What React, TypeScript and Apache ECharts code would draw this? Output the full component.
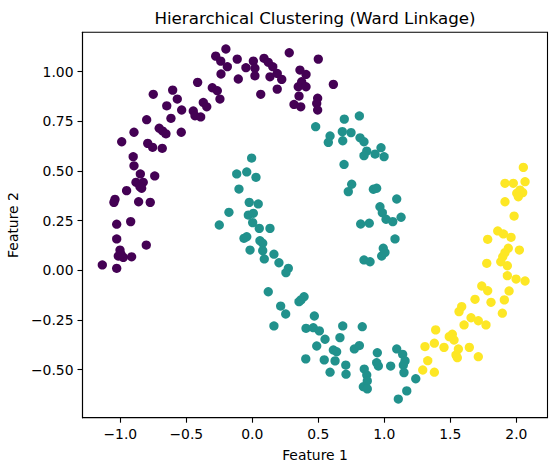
import React, { useEffect, useRef } from "react";
import * as echarts from "echarts";

// Cluster 0 (purple)
const cluster0: number[][] = [
  [-0.2, 1.114], [-0.277, 1.078], [-0.239, 1.053], [-0.189, 1.025], [-0.237, 0.988],
  [-0.414, 0.946], [-0.603, 0.907], [-0.75, 0.886], [-0.568, 0.862], [-0.303, 0.919],
  [-0.265, 0.904], [-0.245, 0.862], [-0.371, 0.845], [-0.345, 0.823], [-0.648, 0.828],
  [-0.535, 0.807], [-0.447, 0.802], [-0.434, 0.778], [-0.391, 0.772], [-0.616, 0.765],
  [-0.8, 0.758], [-0.705, 0.715], [-0.679, 0.701], [-0.654, 0.687], [-0.538, 0.695],
  [-0.896, 0.695], [-0.989, 0.647], [-0.792, 0.639], [-0.755, 0.619], [-0.682, 0.614],
  [-0.902, 0.572], [0.28, 1.095], [0.5, 1.063], [-0.114, 1.063], [-0.048, 1.02],
  [0.008, 1.053], [0.02, 1.017], [0.089, 1.067], [0.121, 1.047], [0.155, 1.025],
  [0.134, 0.974], [0.189, 0.991], [0.223, 0.961], [-0.106, 0.963], [0.02, 0.979],
  [0.189, 0.912], [0.361, 1.008], [0.407, 0.986], [0.374, 0.949], [0.348, 0.924],
  [0.407, 0.924], [0.614, 0.936], [0.064, 0.886], [0.354, 0.877], [0.316, 0.835],
  [0.367, 0.823], [0.495, 0.866], [0.488, 0.84], [0.495, 0.807], [-0.896, 0.526],
  [-0.848, 0.485], [-0.739, 0.475], [-0.881, 0.443], [-0.826, 0.443], [-0.851, 0.421],
  [-0.838, 0.413], [-0.952, 0.401], [-1.04, 0.357], [-1.048, 0.342], [-0.861, 0.345],
  [-0.773, 0.342], [-1.027, 0.232], [-0.921, 0.245], [-1.027, 0.158], [-0.803, 0.127],
  [-1.002, 0.102], [-1.015, 0.072], [-0.977, 0.065], [-0.914, 0.068], [-1.136, 0.027],
  [-1.027, 0.01], [-0.995, 0.082],
];

// Cluster 1 (teal)
const cluster1: number[][] = [
  [0.48, 0.723], [0.697, 0.761], [0.811, 0.777], [0.589, 0.676], [0.576, 0.644],
  [0.682, 0.698], [0.748, 0.693], [0.685, 0.652], [0.816, 0.667], [0.846, 0.647],
  [0.975, 0.617], [0.867, 0.6], [0.93, 0.585], [0.846, 0.577], [0.998, 0.572],
  [-0.005, 0.565], [-0.25, 0.228], [-0.177, 0.292], [-0.118, 0.485], [-0.042, 0.495],
  [0.028, 0.468], [-0.101, 0.409], [-0.023, 0.342], [0.045, 0.334], [-0.03, 0.278],
  [0.008, 0.287], [0.003, 0.24], [0.053, 0.211], [0.134, 0.211], [-0.063, 0.161],
  [-0.042, 0.169], [0.058, 0.149], [0.079, 0.136], [-0.017, 0.102], [0.079, 0.099],
  [0.091, 0.057], [0.164, 0.081], [0.202, 0.038], [0.273, 0.01], [0.255, -0.012],
  [0.695, 0.533], [0.753, 0.433], [0.727, 0.396], [0.917, 0.408], [0.942, 0.413],
  [0.967, 0.32], [0.985, 0.29], [1.013, 0.257], [0.821, 0.233], [0.886, 0.237],
  [0.992, 0.111], [0.98, 0.072], [0.846, 0.052], [0.892, 0.043], [1.094, 0.359],
  [1.064, 0.245], [1.127, 0.267], [1.081, 0.158], [1.005, 0.09], [0.121, -0.108],
  [0.215, -0.18], [0.253, -0.22], [0.164, -0.28], [0.354, -0.158], [0.369, -0.149],
  [0.392, -0.133], [0.47, -0.23], [0.407, -0.292], [0.462, -0.289], [0.508, -0.305],
  [0.551, -0.347], [0.488, -0.381], [0.405, -0.446], [0.545, -0.451], [0.614, -0.401],
  [0.639, -0.41], [0.627, -0.456], [0.589, -0.513], [0.685, -0.28], [0.664, -0.339],
  [0.708, -0.477], [0.71, -0.523], [0.773, -0.396], [0.811, -0.379], [0.833, -0.284],
  [0.947, -0.415], [0.942, -0.465], [0.955, -0.482], [0.848, -0.497], [0.867, -0.527],
  [0.871, -0.557], [0.841, -0.586], [0.871, -0.597], [1.094, -0.396], [1.139, -0.423],
  [1.157, -0.456], [1.144, -0.477], [1.149, -0.515], [1.048, -0.482], [1.238, -0.546],
  [1.17, -0.607], [1.106, -0.648],
];

// Cluster 2 (yellow)
const cluster2: number[][] = [
  [2.053, 0.518], [1.914, 0.438], [1.977, 0.438], [2.066, 0.446], [2.028, 0.404],
  [2.003, 0.388], [2.048, 0.391], [2.015, 0.37], [1.914, 0.345], [1.983, 0.273],
  [1.859, 0.198], [1.902, 0.183], [1.96, 0.166], [1.783, 0.156], [1.939, 0.111],
  [2.023, 0.102], [1.914, 0.089], [1.897, 0.068], [1.776, 0.035], [1.882, 0.043],
  [1.932, 0.023], [1.932, -0.027], [1.998, -0.044], [2.066, -0.054], [1.738, -0.079],
  [1.783, -0.103], [1.945, -0.104], [1.687, -0.146], [1.808, -0.161], [1.909, -0.149],
  [1.586, -0.183], [1.566, -0.208], [1.894, -0.216], [1.657, -0.239], [1.712, -0.254],
  [1.77, -0.275], [1.604, -0.275], [1.389, -0.3], [1.515, -0.322], [1.492, -0.334],
  [1.528, -0.351], [1.379, -0.367], [1.308, -0.384], [1.452, -0.388], [1.644, -0.388],
  [1.561, -0.396], [1.543, -0.426], [1.553, -0.44], [1.712, -0.435], [1.329, -0.455],
  [1.291, -0.502], [1.379, -0.513],
];

const xTicks = [-1, -0.5, 0, 0.5, 1, 1.5, 2];
const xTickLabels = ["\u22121.0", "\u22120.5", "0.0", "0.5", "1.0", "1.5", "2.0"];
const yTicks = [-0.5, -0.25, 0, 0.25, 0.5, 0.75, 1];
const yTickLabels = ["\u22120.50", "\u22120.25", "0.00", "0.25", "0.50", "0.75", "1.00"];

const FONT = "DejaVu Sans";

export default function App() {
  const ref = useRef<HTMLDivElement>(null);
  useEffect(() => {
    if (!ref.current) return;
    const chart = echarts.init(ref.current, undefined, { renderer: "svg" });
    const fmt = (ticks: number[], labels: string[]) => (v: number) => {
      const i = ticks.findIndex((t) => Math.abs(t - v) < 1e-9);
      return i >= 0 ? labels[i] : "";
    };
    const axisCommon = {
      axisLine: { show: true, onZero: false, lineStyle: { color: "#000", width: 1.1 } },
      splitLine: { show: false },
      nameTextStyle: { color: "#000", fontFamily: FONT, fontSize: 13.9 },
    };
    const mk = (data: number[][], color: string) => ({
      type: "scatter",
      data,
      symbol: "circle",
      symbolSize: 9.3,
      itemStyle: { color, opacity: 1 },
      emphasis: { disabled: true },
    });
    chart.setOption({
      animation: false,
      backgroundColor: "#fff",
      grid: {
        left: 82.5,
        top: 32.3,
        right: 8.5,
        bottom: 52.3,
        show: true,
        borderColor: "#000",
        borderWidth: 1.1,
        backgroundColor: "transparent",
        containLabel: false,
        outerBoundsMode: "none",
      },
      graphic: [
        {
          type: "text",
          x: 315,
          y: 18,
          style: {
            text: "Hierarchical Clustering (Ward Linkage)",
            fontFamily: FONT,
            fontSize: 16.7,
            fill: "#000",
            align: "center",
            verticalAlign: "middle",
          },
        },
      ],
      xAxis: {
        type: "value",
        min: -1.286,
        max: 2.236,
        name: "Feature 1",
        nameLocation: "middle",
        nameGap: 30,
        ...axisCommon,
        axisTick: {
          show: true,
          length: 5,
          customValues: xTicks,
          lineStyle: { color: "#000", width: 1.1 },
        },
        axisLabel: {
          customValues: xTicks,
          formatter: fmt(xTicks, xTickLabels),
          color: "#000",
          fontFamily: FONT,
          fontSize: 13.9,
          margin: 9,
          showMinLabel: true,
          showMaxLabel: true,
        },
      },
      yAxis: {
        type: "value",
        min: -0.742,
        max: 1.198,
        name: "Feature 2",
        nameLocation: "middle",
        nameGap: 54,
        nameRotate: 90,
        ...axisCommon,
        axisTick: {
          show: true,
          length: 5,
          customValues: yTicks,
          lineStyle: { color: "#000", width: 1.1 },
        },
        axisLabel: {
          customValues: yTicks,
          formatter: fmt(yTicks, yTickLabels),
          color: "#000",
          fontFamily: FONT,
          fontSize: 13.9,
          margin: 9,
        },
      },
      series: [mk(cluster0, "#440154"), mk(cluster1, "#21918c"), mk(cluster2, "#fde725")],
    });
    return () => chart.dispose();
  }, []);
  return (
    <div
      ref={ref}
      style={{ position: "absolute", left: 0, top: 0, width: 556, height: 470 }}
    />
  );
}
